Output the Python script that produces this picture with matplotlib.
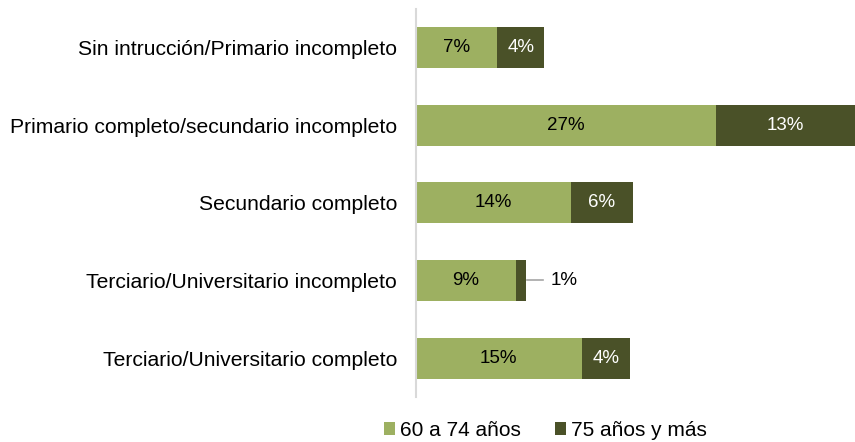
import matplotlib.pyplot as plt

plt.rcParams['font.family'] = ['Liberation Sans', 'DejaVu Sans']

categorias = ['Sin intrucción/Primario incompleto',
              'Primario completo/secundario incompleto',
              'Secundario completo',
              'Terciario/Universitario incompleto',
              'Terciario/Universitario completo']
edad_60_74 = [7.4, 27.3, 14.1, 9.1, 15.1]
edad_75_mas = [4.3, 12.7, 5.7, 0.9, 4.4]
series = ['60 a 74 años', '75 años y más']

verde_claro = '#9DB061'
verde_oscuro = '#4A5128'

fig = plt.figure(figsize=(8.55, 4.42), dpi=100)
ax = fig.add_axes([0.4865, 0.102, 0.5135, 0.878])

y = list(range(len(categorias)))
b1 = ax.barh(y, edad_60_74, height=0.53, color=verde_claro, label=series[0])
b2 = ax.barh(y, edad_75_mas, left=edad_60_74, height=0.53, color=verde_oscuro, label=series[1])

for i in y:
    ax.text(edad_60_74[i] / 2, i, f'{round(edad_60_74[i])}%', ha='center', va='center',
            fontsize=13.5, color='black')
    v = edad_75_mas[i]
    if v >= 2:
        ax.text(edad_60_74[i] + v / 2, i, f'{round(v)}%', ha='center', va='center',
                fontsize=13.5, color='white')
    else:
        x_fin = edad_60_74[i] + v
        ax.plot([x_fin + 0.1, x_fin + 1.6], [i, i], color='#a6a6a6', lw=1.2)
        ax.text(x_fin + 2.3, i, f'{round(v)}%', ha='left', va='center',
                fontsize=13.5, color='black')

ax.set_xlim(0, 40)
ax.set_ylim(len(categorias) - 0.5, -0.5)
ax.set_yticks(y)
ax.set_yticklabels(categorias, fontsize=15.2)
ax.tick_params(axis='y', length=0, pad=13.5)
ax.set_xticks([])
for s in ['top', 'right', 'bottom']:
    ax.spines[s].set_visible(False)
ax.spines['left'].set_color('#d9d9d9')
ax.spines['left'].set_linewidth(1.5)

fig.legend(handles=[b1, b2], labels=series, loc='lower center',
           bbox_to_anchor=(0.638, -0.038), ncol=2, frameon=False, fontsize=15,
           handlelength=0.55, handleheight=0.55, handletextpad=0.25, columnspacing=1.6)

fig.savefig('out.png', dpi=100)
